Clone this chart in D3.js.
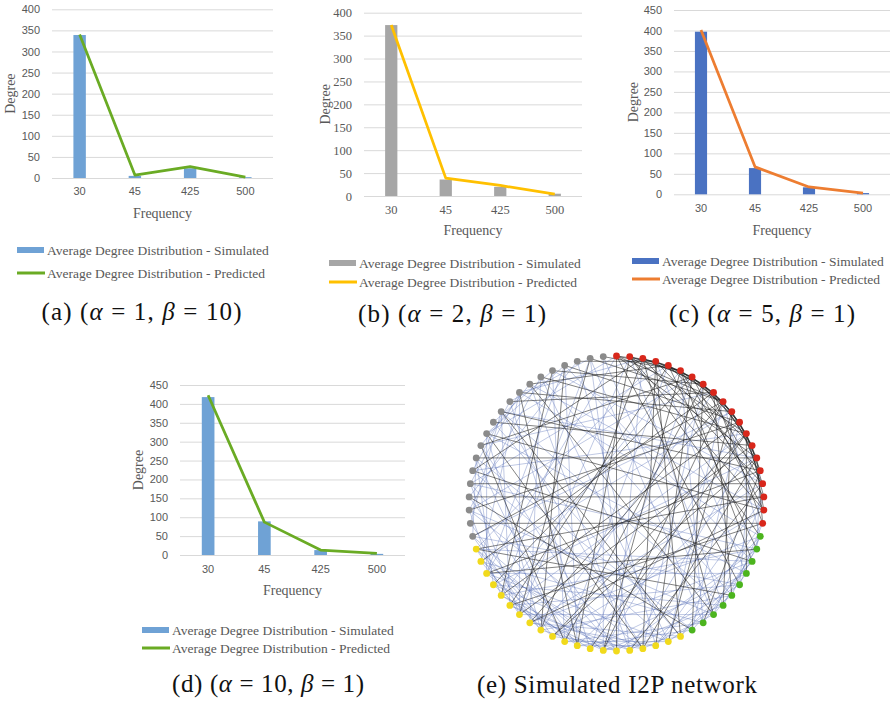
<!DOCTYPE html>
<html>
<head>
<meta charset="utf-8">
<script src="https://cdn.jsdelivr.net/npm/d3@7"></script>
<style>
  html, body { margin: 0; padding: 0; background: #ffffff; }
  svg { display: block; }
</style>
</head>
<body>
<svg id="fig" width="891" height="703"></svg>
<script>
// ---- Data ----
const categories = ["30", "45", "425", "500"];

const simulatedA = [339, 5, 23, 2];
const predictedA = [340, 7, 27, 2];

const simulatedB = [373, 36, 20, 5];
const predictedB = [373, 39, 23, 4];

const simulatedC = [397, 64, 17, 3];
const predictedC = [401, 67, 18, 3];

const simulatedD = [418, 89, 13, 3];
const predictedD = [423, 87, 13, 4];

const yTicksA = [0, 50, 100, 150, 200, 250, 300, 350, 400];
const yTicksC = [0, 50, 100, 150, 200, 250, 300, 350, 400, 450];

const legendSimulated = "Average Degree Distribution - Simulated";
const legendPredicted = "Average Degree Distribution - Predicted";

// Network: node groups in clockwise order starting at the top
const groupNames  = ["red", "green", "yellow", "grey"];
const groupCounts = [20, 10, 20, 20];

// Edge lists (node index pairs)
const darkEdges = ("0-3 0-5 1-4 1-6 2-7 3-8 4-9 5-10 6-11 7-12 8-13 9-14 10-15 11-16 12-17 13-18 14-19 " +
  "2-5 4-7 6-9 8-11 10-13 12-15 3-6 5-8 7-10 9-12 11-14 0-9 1-12 3-15 2-16 5-17 6-18 4-13 0-14 1-18 7-16 8-19 " +
  "56-14 54-16 53-17 51-19 69-5 68-9 67-3 66-11 65-7 64-12 62-10 61-8 60-15 59-13 58-18 57-6 63-4 55-2 52-11 50-9 " +
  "0-35 1-38 2-41 3-33 4-44 5-36 6-46 7-39 8-48 9-42 10-31 11-45 12-37 13-43 14-40 15-47 16-34 17-49 18-42 19-44 " +
  "3-30 6-32 9-36 12-40 14-33 0-24 2-27 5-22 7-29 10-26 12-23 15-28 4-21 8-25 1-20 " +
  "60-30 63-27 58-33 66-41 49-25 55-22 62-38 47-21 65-45 53-29 68-43 57-39")
  .split(" ").map(s => s.split("-").map(Number));

const blueEdges = ("50-36 51-40 52-33 53-38 54-43 55-31 56-46 57-35 58-41 59-30 60-44 61-37 62-48 63-34 64-42 " +
  "65-39 66-47 67-32 68-45 69-36 50-41 52-45 54-35 56-39 58-47 60-33 62-43 64-31 66-38 68-34 " +
  "50-56 51-60 52-64 53-67 55-61 57-63 59-65 61-68 54-62 58-66 " +
  "50-24 52-27 54-21 56-29 58-23 60-26 62-20 64-25 66-22 68-28 69-27 " +
  "30-36 31-39 32-42 33-46 34-48 35-41 36-44 37-45 38-47 39-49 40-46 41-48 30-42 32-38 34-44 36-49 31-47 33-40 43-49 35-45 " +
  "30-22 31-25 32-20 33-27 34-24 35-21 36-26 37-23 38-29 39-28 40-22 41-25 42-20 43-27 44-24 45-21 46-26 47-23 48-28 49-22 " +
  "20-26 21-28 22-29 23-27 20-24 " +
  "0-47 1-43 2-35 3-49 4-39 5-45 6-37 7-33 8-41 9-31 10-48 11-36 12-44 13-34 14-46 15-38 16-42 17-32 18-40 19-30 " +
  "0-58 2-62 4-54 6-52 8-57 10-50 12-55 14-60 16-65 18-63 1-26 3-23 5-28 9-20 11-29 13-24 15-21 17-27 19-25")
  .split(" ").map(s => s.split("-").map(Number));

// ---- Drawing ----
const svg = d3.select("#fig");
const SERIF = '"Liberation Serif"';
const SANS = '"Liberation Sans"';
const TEXT_GREY = "#595959";

function drawChart(cfg) {
  const g = svg.append("g");
  const x = d3.scaleBand().domain(categories).range([cfg.x0, cfg.x1]);
  const y = d3.scaleLinear().domain([0, cfg.max]).range([cfg.yBase, cfg.yTop]);

  // Value axis with gridlines
  const yAxis = g.append("g")
    .attr("transform", `translate(${cfg.x0},0)`)
    .call(d3.axisLeft(y).tickValues(cfg.ticks).tickSize(-(cfg.x1 - cfg.x0)).tickPadding(12));
  yAxis.select(".domain").remove();
  yAxis.selectAll(".tick line").attr("stroke", "#d9d9d9").attr("stroke-width", 1);
  yAxis.selectAll(".tick text")
    .attr("fill", TEXT_GREY)
    .style("font-family", cfg.tickFont)
    .style("font-size", cfg.tickSize + "px");

  // Category axis
  const xAxis = g.append("g")
    .attr("transform", `translate(0,${cfg.yBase})`)
    .call(d3.axisBottom(x).tickSize(0).tickPadding(cfg.catPad));
  xAxis.select(".domain").remove();
  xAxis.selectAll(".tick text")
    .attr("fill", TEXT_GREY)
    .style("font-family", cfg.tickFont)
    .style("font-size", cfg.tickSize + "px");

  // Bars
  const bw = x.bandwidth() * 0.225;
  g.selectAll("rect.bar").data(cfg.sim).enter().append("rect")
    .attr("class", "bar")
    .attr("x", (d, i) => x(categories[i]) + x.bandwidth() / 2 - bw / 2)
    .attr("width", bw)
    .attr("y", d => y(d))
    .attr("height", d => y(0) - y(d))
    .attr("fill", cfg.barColor);

  // Predicted line
  const line = d3.line()
    .x((d, i) => x(categories[i]) + x.bandwidth() / 2)
    .y(d => y(d));
  g.append("path")
    .datum(cfg.pred)
    .attr("d", line)
    .attr("fill", "none")
    .attr("stroke", cfg.lineColor)
    .attr("stroke-width", 2.75)
    .attr("stroke-linejoin", "round");

  // Axis titles
  g.append("text")
    .attr("x", (cfg.x0 + cfg.x1) / 2)
    .attr("y", cfg.freqY)
    .attr("text-anchor", "middle")
    .attr("dominant-baseline", "central")
    .attr("fill", TEXT_GREY)
    .style("font-family", SERIF)
    .style("font-size", "14px")
    .text("Frequency");
  g.append("text")
    .attr("transform", `translate(${cfg.degX},${(cfg.yTop + cfg.yBase) / 2}) rotate(-90)`)
    .attr("text-anchor", "middle")
    .attr("dominant-baseline", "central")
    .attr("fill", TEXT_GREY)
    .style("font-family", SERIF)
    .style("font-size", "14px")
    .text("Degree");

  // Legend
  const lg = g.append("g");
  lg.append("rect")
    .attr("x", cfg.legX).attr("y", cfg.legY1 - 3)
    .attr("width", 27).attr("height", 6)
    .attr("fill", cfg.barColor);
  lg.append("line")
    .attr("x1", cfg.legX).attr("x2", cfg.legX + 28)
    .attr("y1", cfg.legY2).attr("y2", cfg.legY2)
    .attr("stroke", cfg.lineColor).attr("stroke-width", 3);
  [[legendSimulated, cfg.legY1], [legendPredicted, cfg.legY2]].forEach(([t, yy]) => {
    lg.append("text")
      .attr("x", cfg.legX + 30).attr("y", yy)
      .attr("dominant-baseline", "central")
      .attr("fill", TEXT_GREY)
      .style("font-family", SERIF)
      .style("font-size", "13.5px")
      .text(t);
  });

  // Sub-caption
  caption(cfg.capLetter, cfg.capAlpha, cfg.capBeta, cfg.capX, cfg.capY, cfg.capW);
}

function caption(letter, a, b, cx, cy, w) {
  const t = svg.append("text")
    .attr("x", cx).attr("y", cy)
    .attr("text-anchor", "middle")
    .attr("dominant-baseline", "central")
    .attr("fill", "#111111")
    .attr("textLength", w)
    .attr("lengthAdjust", "spacing")
    .style("font-family", SERIF)
    .style("font-size", "25px");
  t.append("tspan").text(`(${letter}) (`);
  t.append("tspan").style("font-style", "italic").text("α");
  t.append("tspan").text(` = ${a}, `);
  t.append("tspan").style("font-style", "italic").text("β");
  t.append("tspan").text(` = ${b})`);
}

drawChart({
  x0: 52, x1: 273, yTop: 9.3, yBase: 178, max: 400, ticks: yTicksA,
  tickFont: SANS, tickSize: 11, catPad: 9,
  sim: simulatedA, pred: predictedA, barColor: "#6fa2d5", lineColor: "#6aab24",
  freqY: 213, degX: 10,
  legX: 17, legY1: 250, legY2: 273,
  capLetter: "a", capAlpha: 1, capBeta: 10, capX: 141.5, capY: 311, capW: 200
});

drawChart({
  x0: 364, x1: 582, yTop: 12.7, yBase: 196, max: 400, ticks: yTicksA,
  tickFont: SERIF, tickSize: 12.5, catPad: 9,
  sim: simulatedB, pred: predictedB, barColor: "#a6a6a6", lineColor: "#ffc000",
  freqY: 230, degX: 325,
  legX: 329, legY1: 263, legY2: 282,
  capLetter: "b", capAlpha: 2, capBeta: 1, capX: 452, capY: 313, capW: 188
});

drawChart({
  x0: 674, x1: 890, yTop: 10, yBase: 194.3, max: 450, ticks: yTicksC,
  tickFont: SANS, tickSize: 11, catPad: 10,
  sim: simulatedC, pred: predictedC, barColor: "#4a72c2", lineColor: "#ed7d31",
  freqY: 230, degX: 633,
  legX: 632, legY1: 261, legY2: 279,
  capLetter: "c", capAlpha: 5, capBeta: 1, capX: 762, capY: 313, capW: 186
});

drawChart({
  x0: 180, x1: 405, yTop: 385, yBase: 555, max: 450, ticks: yTicksC,
  tickFont: SANS, tickSize: 11, catPad: 10,
  sim: simulatedD, pred: predictedD, barColor: "#6fa2d5", lineColor: "#6aab24",
  freqY: 590, degX: 138,
  legX: 142, legY1: 630, legY2: 648,
  capLetter: "d", capAlpha: 10, capBeta: 1, capX: 268, capY: 683, capW: 192
});

// ---- Network (circular layout) ----
const groupColors = { red: "#d8271b", green: "#4cb41e", yellow: "#f1da1c", grey: "#8b8b8b" };
const nodes = [];
groupNames.forEach((name, gi) => {
  for (let k = 0; k < groupCounts[gi]; k++) nodes.push({ group: name });
});
const nTotal = nodes.length;
const angle = d3.scaleLinear().domain([0, nTotal]).range([-Math.PI / 2, 1.5 * Math.PI]);
const cx = 616.5, cy = 503.5, R = 147.5;
nodes.forEach((n, i) => {
  n.x = cx + R * Math.cos(angle(i));
  n.y = cy + R * Math.sin(angle(i));
});

const net = svg.append("g");
net.selectAll("line.blue").data(blueEdges).enter().append("line")
  .attr("x1", d => nodes[d[0]].x).attr("y1", d => nodes[d[0]].y)
  .attr("x2", d => nodes[d[1]].x).attr("y2", d => nodes[d[1]].y)
  .attr("stroke", "rgba(88,112,182,0.5)")
  .attr("stroke-width", 0.75);
net.selectAll("line.dark").data(darkEdges).enter().append("line")
  .attr("x1", d => nodes[d[0]].x).attr("y1", d => nodes[d[0]].y)
  .attr("x2", d => nodes[d[1]].x).attr("y2", d => nodes[d[1]].y)
  .attr("stroke", "rgba(25,25,25,0.68)")
  .attr("stroke-width", 0.8);
net.selectAll("circle").data(nodes).enter().append("circle")
  .attr("cx", d => d.x).attr("cy", d => d.y)
  .attr("r", 3.4)
  .attr("fill", d => groupColors[d.group]);

svg.append("text")
  .attr("x", 617).attr("y", 684)
  .attr("text-anchor", "middle")
  .attr("dominant-baseline", "central")
  .attr("fill", "#111111")
  .attr("textLength", 280)
  .attr("lengthAdjust", "spacing")
  .style("font-family", SERIF)
  .style("font-size", "25px")
  .text("(e) Simulated I2P network");
</script>
</body>
</html>
